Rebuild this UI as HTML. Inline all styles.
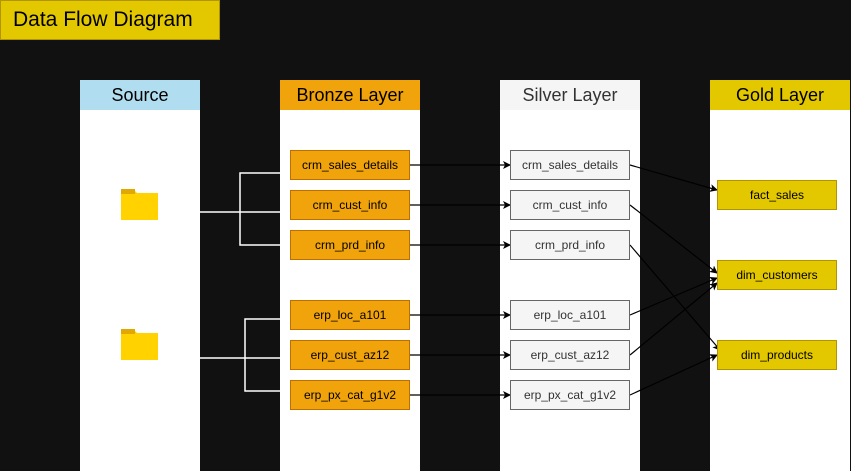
<!DOCTYPE html>
<html><head><style>
body{margin:0;width:851px;height:471px;background:#111;position:relative;overflow:hidden;font-family:"Liberation Sans",sans-serif}
.a{position:absolute;box-sizing:border-box;display:flex;align-items:center;justify-content:center;color:#000}
.col{position:absolute;background:#fff;top:110px;height:361px;width:120px}
.b{background:#f0a30a;border:1px solid #bd7000;font-size:12px;width:120px;height:30px}
.s{background:#f5f5f5;border:1px solid #666;font-size:12px;width:120px;height:30px;color:#333}
.g{background:#e3c800;border:1px solid #b09500;font-size:12px;width:120px;height:30px}
.h{font-size:18px;height:30px;width:120px;top:80px}
</style></head><body>
<div class="a" style="left:0;top:0;width:220px;height:40px;background:#e3c800;border:1px solid #b09500;font-size:21px;justify-content:flex-start;padding-left:12px">Data Flow Diagram</div>
<div class="col" style="left:80px"></div>
<div class="col" style="left:280px;width:140px"></div>
<div class="col" style="left:500px;width:140px"></div>
<div class="col" style="left:710px;width:140px"></div>
<div class="a h" style="left:80px;background:#b1ddf0">Source</div>
<div class="a h" style="left:280px;width:140px;background:#f0a30a">Bronze Layer</div>
<div class="a h" style="left:500px;width:140px;background:#f5f5f5;color:#333">Silver Layer</div>
<div class="a h" style="left:710px;width:140px;background:#e3c800">Gold Layer</div>
<svg width="851" height="471" style="position:absolute;left:0;top:0">
<defs><marker id="m" markerWidth="8" markerHeight="8" refX="7" refY="4" orient="auto" markerUnits="userSpaceOnUse"><path d="M0,0L8,4L0,8L2,4Z" fill="#000"/></marker></defs>
<g fill="#ffd200"><path d="M121,189h12l4,4h21v27h-37z"/><path d="M121,329h12l4,4h21v27h-37z"/></g>
<g fill="#e0a800"><rect x="121" y="189" width="14" height="5"/><rect x="121" y="329" width="14" height="5"/></g>
<g stroke="#fff" stroke-width="1.5" fill="none">
<path d="M200,212H290M240,212V173H290M240,212V245H290"/>
<path d="M200,358H290M245,358V319H290M245,358V391H290"/>
</g>
<g stroke="#000" stroke-width="1.2" marker-end="url(#m)">
<line x1="410" y1="165" x2="510" y2="165"/><line x1="410" y1="205" x2="510" y2="205"/><line x1="410" y1="245" x2="510" y2="245"/>
<line x1="410" y1="315" x2="510" y2="315"/><line x1="410" y1="355" x2="510" y2="355"/><line x1="410" y1="395" x2="510" y2="395"/>
<line x1="630" y1="165" x2="717" y2="190"/><line x1="630" y1="205" x2="717" y2="273"/><line x1="630" y1="245" x2="720" y2="350"/>
<line x1="630" y1="315" x2="717" y2="278"/><line x1="630" y1="355" x2="717" y2="283"/><line x1="630" y1="395" x2="717" y2="355"/>
</g>
</svg>
<div class="a b" style="left:290px;top:150px">crm_sales_details</div>
<div class="a b" style="left:290px;top:190px">crm_cust_info</div>
<div class="a b" style="left:290px;top:230px">crm_prd_info</div>
<div class="a b" style="left:290px;top:300px">erp_loc_a101</div>
<div class="a b" style="left:290px;top:340px">erp_cust_az12</div>
<div class="a b" style="left:290px;top:380px">erp_px_cat_g1v2</div>
<div class="a s" style="left:510px;top:150px">crm_sales_details</div>
<div class="a s" style="left:510px;top:190px">crm_cust_info</div>
<div class="a s" style="left:510px;top:230px">crm_prd_info</div>
<div class="a s" style="left:510px;top:300px">erp_loc_a101</div>
<div class="a s" style="left:510px;top:340px">erp_cust_az12</div>
<div class="a s" style="left:510px;top:380px">erp_px_cat_g1v2</div>
<div class="a g" style="left:717px;top:180px">fact_sales</div>
<div class="a g" style="left:717px;top:260px">dim_customers</div>
<div class="a g" style="left:717px;top:340px">dim_products</div>
</body></html>
